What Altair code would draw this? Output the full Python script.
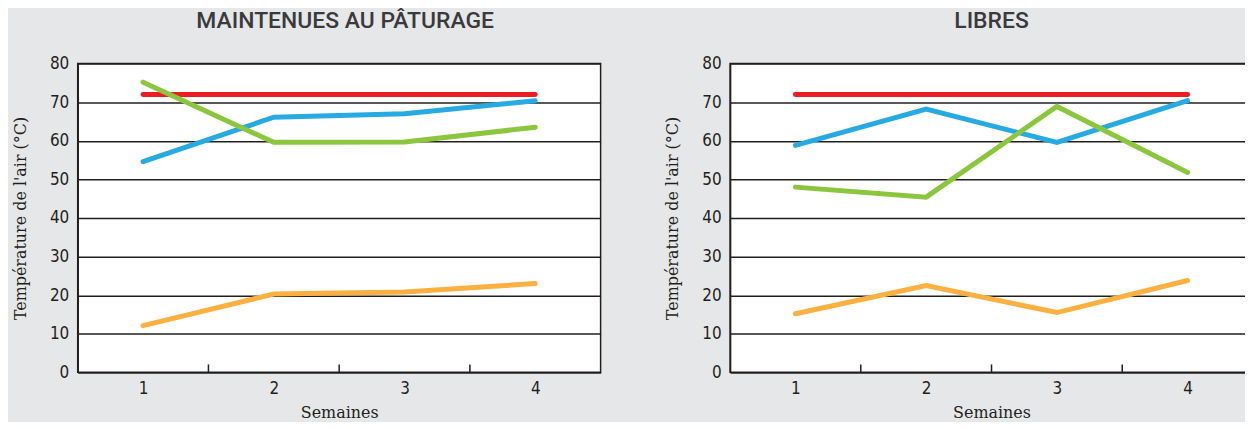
import altair as alt
import pandas as pd

weeks = [1, 2, 3, 4]
series = ["rouge", "bleu", "vert", "orange"]
colors = ["#ec1c24", "#27aae1", "#8cc63f", "#fbb040"]

# MAINTENUES AU PÂTURAGE
p1_rouge = [72, 72, 72, 72]
p1_bleu = [54.6, 66.1, 67.0, 70.4]
p1_vert = [75.2, 59.6, 59.7, 63.5]
p1_orange = [12.1, 20.3, 20.8, 23.0]

# LIBRES
p2_rouge = [72, 72, 72, 72]
p2_bleu = [58.8, 68.2, 59.6, 70.4]
p2_vert = [48.0, 45.4, 68.9, 51.8]
p2_orange = [15.2, 22.5, 15.5, 23.8]

titles = ["MAINTENUES AU PÂTURAGE", "LIBRES"]
title_dx = [6, 0]
week_ticks = [1.5, 2.5, 3.5]

def make_df(vals):
    rows = []
    for s, v in zip(series, vals):
        for w, y in zip(weeks, v):
            rows.append({"serie": s, "semaine": w, "temp": y})
    return pd.DataFrame(rows)

df1 = make_df([p1_rouge, p1_bleu, p1_vert, p1_orange])
df2 = make_df([p2_rouge, p2_bleu, p2_vert, p2_orange])
ticks_df = pd.DataFrame({"semaine": week_ticks})

W, H = 525, 310
num_font = "DejaVu Sans Condensed, Liberation Sans Narrow, sans-serif"
serif_font = "DejaVu Serif"

def panel(df, title, dx):
    x = alt.X("semaine:Q",
              scale=alt.Scale(domain=[0.5, 4.5], nice=False, zero=False),
              axis=alt.Axis(values=weeks, format="d", ticks=False, grid=False, title="Semaines",
                            labelFont=num_font, labelFontSize=17, labelColor="#231f20",
                            labelPadding=8, titleFont=serif_font, titleFontSize=16,
                            titleFontWeight="normal", titleColor="#231f20", titlePadding=8,
                            domainColor="#231f20", domainWidth=1.5, labelAngle=0))
    y = alt.Y("temp:Q",
              scale=alt.Scale(domain=[0, 80], nice=False),
              axis=alt.Axis(values=list(range(0, 90, 10)), format="d", ticks=False, grid=True,
                            gridColor="#231f20", gridWidth=1.5, gridOpacity=1,
                            title="Température de l'air  (°C)",
                            labelFont=num_font, labelFontSize=17, labelColor="#231f20",
                            labelPadding=9, titleFont=serif_font, titleFontSize=16,
                            titleFontWeight="normal", titleColor="#231f20", titlePadding=21,
                            domainColor="#231f20", domainWidth=1.5))
    lines = alt.Chart(df).mark_line(strokeWidth=5, strokeCap="round", strokeJoin="miter").encode(
        x=x, y=y,
        color=alt.Color("serie:N", scale=alt.Scale(domain=series, range=colors), legend=None),
        order=alt.Order("semaine:Q"),
    )
    tk = alt.Chart(ticks_df).mark_rule(color="#231f20", strokeWidth=1.5).encode(
        x=alt.X("semaine:Q"),
        y=alt.value(H - 8),
        y2=alt.value(H),
    )
    return alt.layer(lines, tk).properties(
        width=W, height=H,
        title=alt.TitleParams(title, font="Roboto", fontSize=23, fontWeight=500,
                              color="#3a3a3c", offset=22, anchor="middle", dx=dx),
    )

chart = alt.hconcat(panel(df1, titles[0], title_dx[0]), panel(df2, titles[1], title_dx[1]),
                    spacing=62).properties(
    background="#e6e7e8",
    padding={"left": 3, "top": 0, "right": -9, "bottom": 0},
).configure_view(stroke="#231f20", strokeWidth=1.5, fill="white")

chart.save("out.html", embed_options={"renderer": "svg", "actions": False})
